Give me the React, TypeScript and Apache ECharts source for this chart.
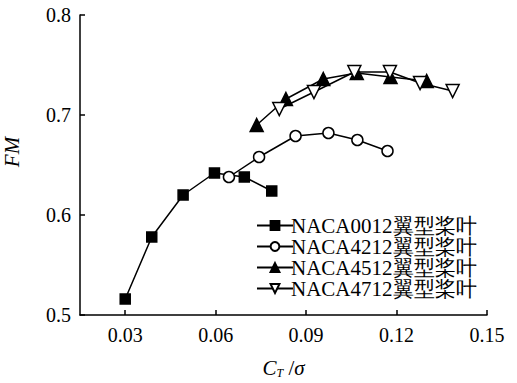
import React, { useEffect, useRef } from "react";
import * as echarts from "echarts";

const seriesNames = ["NACA0012翼型桨叶", "NACA4212翼型桨叶", "NACA4512翼型桨叶", "NACA4712翼型桨叶"];

const naca0012X = [0.030, 0.0388, 0.0492, 0.0596, 0.0695, 0.0786];
const naca0012Y = [0.516, 0.578, 0.620, 0.642, 0.638, 0.624];
const naca4212X = [0.0644, 0.0744, 0.0865, 0.0974, 0.107, 0.117];
const naca4212Y = [0.638, 0.658, 0.679, 0.682, 0.675, 0.664];
const naca4512X = [0.0736, 0.0833, 0.0957, 0.1068, 0.118, 0.130];
const naca4512Y = [0.690, 0.716, 0.736, 0.742, 0.738, 0.734];
const naca4712X = [0.0811, 0.0926, 0.106, 0.1178, 0.1278, 0.1386];
const naca4712Y = [0.706, 0.723, 0.743, 0.743, 0.732, 0.724];

const xTicks = [0.03, 0.06, 0.09, 0.12, 0.15];
const yTicks = [0.5, 0.6, 0.7, 0.8];

const FONT = "Liberation Serif";

function pairs(xs: number[], ys: number[]) {
  return xs.map((x, i) => [x, ys[i]]);
}

export default function App() {
  const ref = useRef<HTMLDivElement>(null);
  useEffect(() => {
    if (!ref.current) return;
    const chart = echarts.init(ref.current, null, { renderer: "svg" });
    const lineStyle = { color: "#000", width: 1.5 };
    const symbols = ["rect", "circle", "triangle", "path://M0,0 L10,0 L5,9 Z"];
    const fills = ["#000", "#fff", "#000", "#fff"];
    const sizes = [10, 11, 13, 13];
    const data = [
      pairs(naca0012X, naca0012Y),
      pairs(naca4212X, naca4212Y),
      pairs(naca4512X, naca4512Y),
      pairs(naca4712X, naca4712Y),
    ];
    chart.setOption({
      animation: false,
      backgroundColor: "#fff",
      textStyle: { fontFamily: FONT },
      grid: { left: 80, right: 30, top: 15, bottom: 68, containLabel: false, outerBoundsMode: "none" },
      legend: {
        orient: "vertical",
        left: 251,
        top: 210,
        itemGap: 0,
        itemWidth: 36,
        itemHeight: 11,
        data: seriesNames,
        textStyle: {
          fontFamily: FONT,
          fontSize: 21,
          color: "#000",
          lineHeight: 19,
          padding: [0, 0, 0, -7],
        },
      },
      xAxis: {
        type: "value",
        min: 0.015,
        max: 0.15,
        interval: 0.015,
        name: "{i|C}{s|T}{n| /}{i|σ}",
        nameLocation: "middle",
        nameGap: 42,
        nameTextStyle: {
          rich: {
            i: { fontFamily: FONT, fontStyle: "italic", fontSize: 21, color: "#000" },
            s: { fontFamily: FONT, fontStyle: "italic", fontSize: 12, color: "#000", verticalAlign: "bottom", padding: [10, 0, 0, 0] },
            n: { fontFamily: FONT, fontSize: 21, color: "#000" },
          },
        },
        axisLine: { lineStyle: { color: "#000", width: 1.5 } },
        axisTick: { inside: true, length: 5, customValues: xTicks, lineStyle: { color: "#000", width: 1.5 } },
        axisLabel: {
          customValues: xTicks,
          formatter: (v: number) => v.toFixed(2),
          fontFamily: FONT,
          fontSize: 20,
          color: "#000",
          margin: 10,
        },
        splitLine: { show: false },
      },
      yAxis: {
        type: "value",
        min: 0.5,
        max: 0.8,
        interval: 0.1,
        name: "FM",
        nameLocation: "middle",
        nameGap: 58,
        nameTextStyle: { fontFamily: FONT, fontStyle: "italic", fontSize: 21, color: "#000", padding: [0, 0, 0, 26] },
        axisLine: { show: true, lineStyle: { color: "#000", width: 1.5 } },
        axisTick: { show: true, inside: true, length: 5, customValues: yTicks, lineStyle: { color: "#000", width: 1.5 } },
        axisLabel: {
          formatter: (v: number) => v.toFixed(1),
          fontFamily: FONT,
          fontSize: 20,
          color: "#000",
          margin: 9,
        },
        splitLine: { show: false },
      },
      series: seriesNames.map((name, i) => ({
        name,
        type: "line",
        data: data[i],
        symbol: symbols[i],
        symbolSize: sizes[i],
        showSymbol: true,
        lineStyle,
        itemStyle: { color: fills[i], borderColor: "#000", borderWidth: 1.5 },
        z: 2 + i,
      })),
    });
    return () => chart.dispose();
  }, []);
  return <div ref={ref} style={{ width: 517, height: 383, position: "absolute", left: 0, top: 0 }} />;
}
